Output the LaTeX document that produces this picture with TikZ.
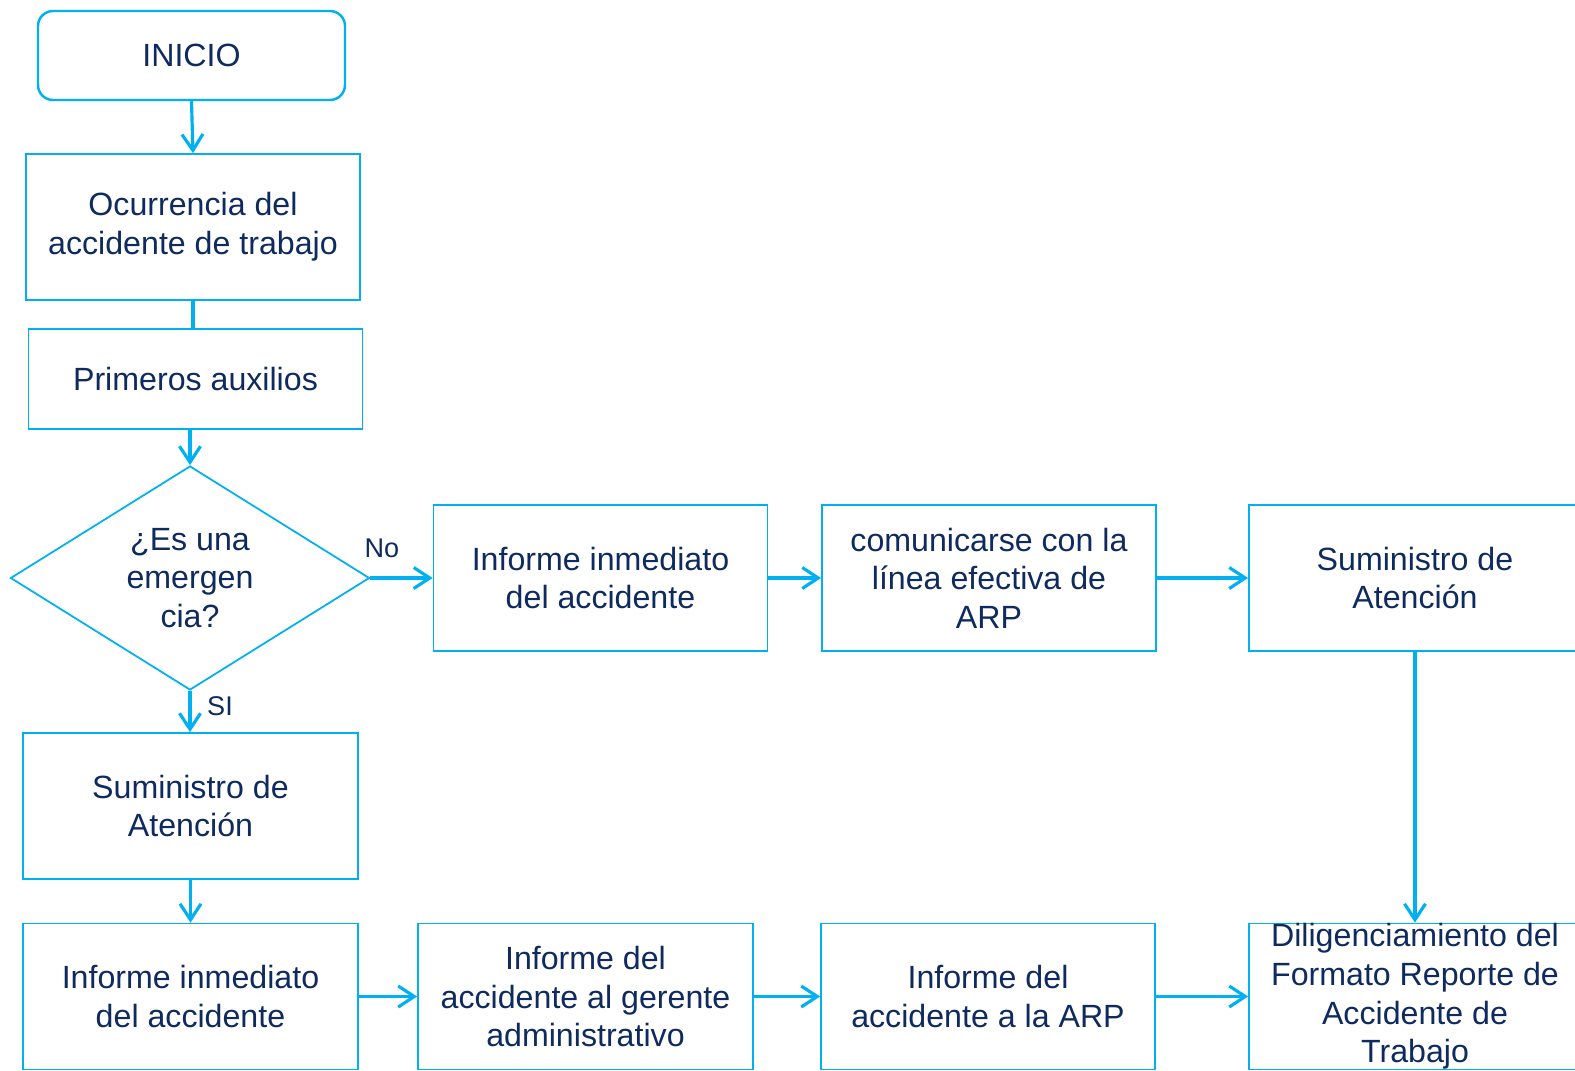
\documentclass[tikz,border=0pt]{standalone}
\usepackage{fontspec}
\setmainfont{Liberation Sans}
\usetikzlibrary{shapes.geometric,arrows.meta}

\definecolor{linea}{HTML}{00B0F0}
\definecolor{texto}{HTML}{0E2A5E}

\tikzset{
  caja/.style={draw=linea, line width=0.5pt, text=texto, align=center,
    inner sep=0pt, minimum width=3.34cm, minimum height=1.46cm,
    font=\fontsize{9.15pt}{11pt}\selectfont},
  inicio/.style={caja, rounded corners=0.15cm, line width=0.7pt,
    minimum width=3.07cm, minimum height=0.89cm},
  decision/.style={caja, diamond, aspect=1.6, minimum width=3.59cm,
    minimum height=2.24cm},
  flecha/.style={draw=linea, line width=0.9pt,
    -{Straight Barb[length=1.6mm, width=2.1mm, line width=0.9pt]}},
  etiqueta/.style={text=texto, inner sep=0pt, font=\fontsize{7.7pt}{9pt}\selectfont}
}

\begin{document}
\begin{tikzpicture}

\useasboundingbox (0,0) rectangle (15.75,-10.70);

%%%%%%%%%%%%%%%%%%%%%%%%%%%%%%%%%%%%%%%%%%%%%%%%%%%%%%%%%%%%%%%%%
%%%%%%%%%%%%%%%%%%%%%%%%%%%%%%
\node [inicio] (inicio) at (1.915,-0.555) {INICIO};

\node [caja] (ocurrencia) at (1.93,-2.27) {Ocurrencia del\\accidente de trabajo};
\draw [flecha]  (inicio.south) -- (ocurrencia.north);

\node [caja, minimum height=1.00cm] (primeros) at (1.955,-3.79) {Primeros auxilios};
\draw [draw=linea, line width=0.9pt]  (ocurrencia.south) -- (ocurrencia.south |- primeros.north);

\node [decision] (emergencia) at (1.90,-5.78) {¿Es una\\emergen\\cia?};
\draw [flecha]  (primeros.south -| emergencia.north) -- (emergencia.north);


\node [caja] (informeA) at (6.005,-5.78) {Informe inmediato\\del accidente};
\draw [flecha]  (emergencia.east) -- (informeA.west);
\node [etiqueta] (no) at (3.82,-5.48) {No};

\node [caja] (comunica) at (9.89,-5.78) {comunicarse con la\\línea efectiva de\\ARP};
\draw [flecha]  (informeA.east) -- (comunica.west);

\node [caja, minimum width=3.32cm] (suministroB) at (14.15,-5.78) {Suministro de\\Atención};
\draw [flecha]  (comunica.east) -- (suministroB.west);


\node [caja, minimum width=3.35cm] (suministroA) at (1.905,-8.06) {Suministro de\\Atención};
\draw [flecha]  (emergencia.south) -- (suministroA.north -| emergencia.south);
\node [etiqueta] (si) at (2.20,-7.06) {SI};

\node [caja, minimum width=3.35cm] (informeC) at (1.905,-9.965) {Informe inmediato\\del accidente};
\draw [flecha]  (suministroA.south) -- (informeC.north);


\node [caja, minimum width=3.35cm] (gerente) at (5.855,-9.965) {Informe del\\accidente al gerente\\administrativo};
\draw [flecha]  (informeC.east) -- (gerente.west);

\node [caja] (arp) at (9.88,-9.965) {Informe del\\accidente a la ARP};
\draw [flecha]  (gerente.east) -- (arp.west);

\node [caja, minimum width=3.32cm] (diligencia) at (14.15,-9.965)
  {Diligenciamiento del\\Formato Reporte de\\Accidente de\\Trabajo};
\draw [flecha]  (arp.east) -- (diligencia.west);
\draw [flecha]  (suministroB.south) -- (diligencia.north);


%%%%%%%%%%%%%%%%%%%%%%%%%%%%%%%%%%%%%%%%%%%%%%%%%%%%%%%%%%%%%%%%%

\end{tikzpicture}
\end{document}
